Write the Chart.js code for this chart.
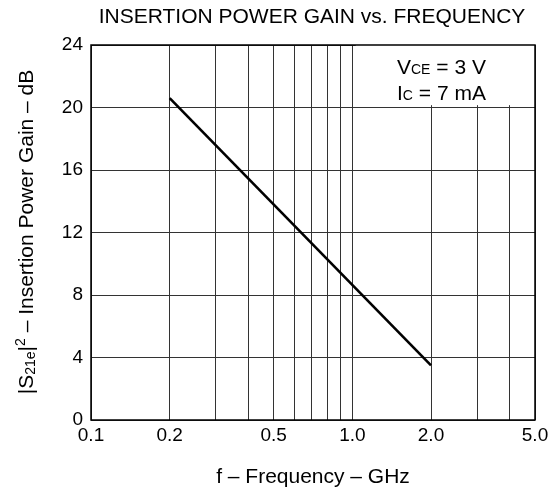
<!DOCTYPE html>
<html>
<head>
<meta charset="utf-8">
<script src="https://cdn.jsdelivr.net/npm/chart.js@4/dist/chart.umd.min.js"></script>
<style>
html,body{margin:0;padding:0;background:#fff;}
#wrap{width:560px;height:490px;position:relative;}
</style>
</head>
<body>
<div id="wrap"><canvas id="c" width="560" height="490"></canvas></div>
<script>
// ---- data ----
const freqGHz = [0.2, 2.0];
const gainDb = [20.6, 3.5];
const xGridValues = [0.1, 0.2, 0.3, 0.4, 0.5, 0.6, 0.7, 0.8, 0.9, 1.0, 2.0, 3.0, 4.0, 5.0];
const xTickLabels = ['0.1', '0.2', '0.5', '1.0', '2.0', '5.0'];
const yTickValues = [0, 4, 8, 12, 16, 20, 24];
const titleText = 'INSERTION POWER GAIN vs. FREQUENCY';
const xAxisTitle = 'f – Frequency – GHz';
const FONT = '"Liberation Sans", Arial, sans-serif';

function drawSegments(ctx, segs, x, y, align) {
  let total = 0;
  segs.forEach(s => { ctx.font = s.size + 'px ' + FONT; total += ctx.measureText(s.t).width; });
  let cx = align === 'center' ? x - total / 2 : x;
  ctx.textAlign = 'left';
  ctx.textBaseline = 'alphabetic';
  segs.forEach(s => {
    ctx.font = s.size + 'px ' + FONT;
    ctx.fillText(s.t, cx, y + (s.dy || 0));
    cx += ctx.measureText(s.t).width;
  });
}

const decor = {
  id: 'decor',
  afterDatasetsDraw(chart) {
    const ctx = chart.ctx, a = chart.chartArea;
    const xs = chart.scales.x, ys = chart.scales.y;
    ctx.save();
    // white box for conditions
    const bx = xs.getPixelForValue(1.03), by = ys.getPixelForValue(20.15);
    ctx.fillStyle = '#fff';
    ctx.fillRect(bx, a.top, a.right - bx, by - a.top);
    ctx.fillStyle = '#000';
    drawSegments(ctx, [{t:'V', size:21}, {t:'CE', size:14}, {t:' = 3 V', size:21}], 397, 74, 'left');
    drawSegments(ctx, [{t:'I', size:21}, {t:'C', size:14}, {t:' = 7 mA', size:21}], 397, 100, 'left');
    // frame
    ctx.strokeStyle = '#000';
    ctx.lineWidth = 1.5;
    ctx.strokeRect(a.left, a.top, a.right - a.left, a.bottom - a.top);
    // title
    ctx.font = '21px ' + FONT;
    ctx.textAlign = 'center';
    ctx.textBaseline = 'alphabetic';
    ctx.fillText(titleText, 312, 23);
    // x axis title
    ctx.font = '21px ' + FONT;
    ctx.fillText(xAxisTitle, 313, 483);
    // y axis title
    ctx.translate(33, 232);
    ctx.rotate(-Math.PI / 2);
    drawSegments(ctx, [
      {t:'|S', size:21}, {t:'21e', size:14, dy:2}, {t:'|', size:21}, {t:'2', size:14, dy:-8},
      {t:' – Insertion Power Gain – dB', size:21}
    ], 0, 0, 'center');
    ctx.restore();
  }
};

new Chart(document.getElementById('c'), {
  type: 'scatter',
  data: {
    datasets: [{
      data: freqGHz.map((f, i) => ({x: f, y: gainDb[i]})),
      showLine: true,
      borderColor: '#000',
      borderWidth: 2.6,
      pointRadius: 0,
      fill: false
    }]
  },
  options: {
    responsive: false,
    animation: false,
    layout: {padding: {left: 0, top: 45, right: 25, bottom: 0}},
    plugins: {legend: {display: false}, title: {display: false}, tooltip: {enabled: false}},
    scales: {
      x: {
        type: 'logarithmic',
        min: 0.1, max: 5,
        afterBuildTicks(scale) { scale.ticks = xGridValues.map(v => ({value: v})); },
        afterFit(scale) { scale.height = 70; },
        ticks: {
          autoSkip: false, maxRotation: 0, padding: 4, color: '#000',
          font: {family: FONT, size: 19},
          callback(v) {
            const s = Number(v).toFixed(1);
            return xTickLabels.includes(s) ? s : '';
          }
        },
        grid: {color: '#333', lineWidth: 1, drawTicks: false},
        border: {display: false}
      },
      y: {
        min: 0, max: 24,
        afterBuildTicks(scale) { scale.ticks = yTickValues.map(v => ({value: v})); },
        afterFit(scale) { scale.width = 91; },
        ticks: {padding: 8, color: '#000', font: {family: FONT, size: 19}},
        grid: {color: '#333', lineWidth: 1, drawTicks: false},
        border: {display: false}
      }
    }
  },
  plugins: [decor]
});
</script>
</body>
</html>
